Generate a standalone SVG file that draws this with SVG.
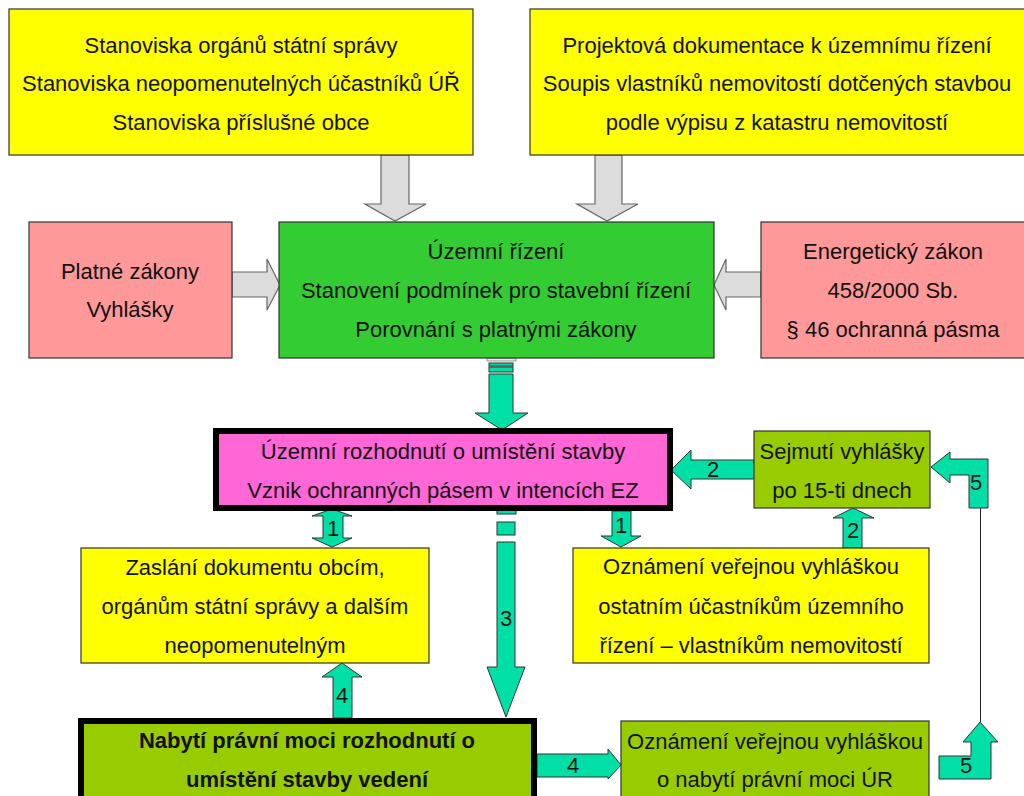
<svg xmlns="http://www.w3.org/2000/svg" width="1024" height="796" viewBox="0 0 1024 796">
<style>
  text{font-family:"Liberation Sans",Arial,sans-serif;font-size:22px;fill:#111;text-anchor:middle;dominant-baseline:central}
  .box{stroke:#333;stroke-width:1.2}
  .thick{stroke:#000;stroke-width:6}
  .gray{fill:#dcdcdc;stroke:#666;stroke-width:1.2}
  .teal{fill:#00e0a6;stroke:#333;stroke-width:1}
  .lbl{font-size:22px}
  .bold{font-weight:bold}
</style>
<rect width="1024" height="796" fill="#fff"/>

<g id="connectors">
  <polygon class="gray" points="381,155 409,155 409,204 426,204 395,221 365,204 381,204"/>
  <polygon class="gray" points="595,155 622,155 622,204 638,204 607,221 577,204 595,204"/>
  <polygon class="gray" points="232,272 267,272 267,259 280,285 267,310 267,297 232,297"/>
  <polygon class="gray" points="761,272 726,272 726,259 714,285 726,310 726,297 761,297"/>
  <rect x="487" y="358" width="29" height="3" fill="#e8e8e8" stroke="#888" stroke-width="0.8"/>
  <rect class="teal" x="489" y="363" width="24" height="3"/>
  <rect class="teal" x="489" y="367" width="24" height="5"/>
  <polygon class="teal" points="489,374 513,374 513,413 528,413 502,430 475,413 489,413"/>
  <polygon class="teal" points="332,509 352,516 343,516 343,538 352,538 332,547 312,538 323,538 323,516 312,516"/>
  <text class="lbl" x="333" y="528">1</text>
  <polygon class="teal" points="612,511 631,511 631,536 641,536 621,547 601,536 612,536"/>
  <text class="lbl" x="621" y="525">1</text>
  <polygon class="teal" points="754,460 691,460 691,450 671,470 691,489 691,479 754,479"/>
  <text class="lbl" x="713" y="469">2</text>
  <polygon class="teal" points="853,508 874,518 862,518 862,548 843,548 843,518 833,518"/>
  <text class="lbl" x="853" y="530">2</text>
  <polygon class="teal" points="931,467 950,452 950,459 988,459 988,508 969,508 969,475 950,475 950,483"/>
  <text class="lbl" x="976" y="482">5</text>
  <line x1="980.5" y1="508" x2="980.5" y2="722" stroke="#222" stroke-width="1"/>
  <polygon class="teal" points="980,722 998,742 991,742 991,779 939,779 939,756 971,756 971,742 963,742"/>
  <text class="lbl" x="966" y="765">5</text>
  <rect class="teal" x="497" y="509" width="19" height="5"/>
  <rect class="teal" x="497" y="522" width="18" height="13"/>
  <polygon class="teal" points="497,542 515,542 515,667 525,667 506,717 487,667 497,667"/>
  <text class="lbl" x="506" y="618">3</text>
  <polygon class="teal" points="342,663 362,677 352,677 352,718 333,718 333,677 322,677"/>
  <text class="lbl" x="342" y="695">4</text>
  <polygon class="teal" points="537,754 608,754 608,749 621,765 608,779 608,777 537,777"/>
  <text class="lbl" x="573" y="765">4</text>
</g>

<g id="n1">
  <rect class="box" x="9" y="9" width="464" height="146" fill="#ffff00"/>
  <text x="241" y="45">Stanoviska orgánů státní správy</text>
  <text x="241" y="83">Stanoviska neopomenutelných účastníků ÚŘ</text>
  <text x="241" y="122">Stanoviska příslušné obce</text>
</g>
<g id="n2">
  <rect class="box" x="530" y="9" width="500" height="146" fill="#ffff00"/>
  <text x="777" y="45">Projektová dokumentace k územnímu řízení</text>
  <text x="777" y="83">Soupis vlastníků nemovitostí dotčených stavbou</text>
  <text x="777" y="122">podle výpisu z katastru nemovitostí</text>
</g>
<g id="n3">
  <rect class="box" x="29" y="222" width="203" height="136" fill="#ff9999"/>
  <text x="130" y="271">Platné zákony</text>
  <text x="130" y="309">Vyhlášky</text>
</g>
<g id="n4">
  <rect class="box" x="279" y="222" width="435" height="136" fill="#33cc33"/>
  <text x="496" y="251">Územní řízení</text>
  <text x="496" y="290">Stanovení podmínek pro stavební řízení</text>
  <text x="496" y="329">Porovnání s platnými zákony</text>
</g>
<g id="n5">
  <rect class="box" x="761" y="222" width="270" height="136" fill="#ff9999"/>
  <text x="893" y="251">Energetický zákon</text>
  <text x="893" y="290">458/2000 Sb.</text>
  <text x="893" y="329">§ 46 ochranná pásma</text>
</g>
<g id="n6">
  <rect class="thick" x="216" y="431" width="454" height="77" fill="#ff66d6"/>
  <text x="443" y="451">Územní rozhodnutí o umístění stavby</text>
  <text x="443" y="490">Vznik ochranných pásem v intencích EZ</text>
</g>
<g id="n7">
  <rect class="box" x="754" y="431" width="176" height="77" fill="#99cc00"/>
  <text x="842" y="451">Sejmutí vyhlášky</text>
  <text x="842" y="490">po 15-ti dnech</text>
</g>
<g id="n8">
  <rect class="box" x="81" y="548" width="348" height="115" fill="#ffff00"/>
  <text x="255" y="567">Zaslání dokumentu obcím,</text>
  <text x="255" y="606">orgánům státní správy a dalším</text>
  <text x="255" y="645">neopomenutelným</text>
</g>
<g id="n9">
  <rect class="box" x="573" y="548" width="356" height="115" fill="#ffff00"/>
  <text x="751" y="566">Oznámení veřejnou vyhláškou</text>
  <text x="751" y="606">ostatním účastníkům územního</text>
  <text x="751" y="645">řízení – vlastníkům nemovitostí</text>
</g>
<g id="n10">
  <rect class="thick" x="81" y="721" width="453" height="90" fill="#99cc00"/>
  <text class="bold" x="307" y="740">Nabytí právní moci rozhodnutí o</text>
  <text class="bold" x="307" y="779">umístění stavby vedení</text>
</g>
<g id="n11">
  <rect class="box" x="621" y="721" width="308" height="90" fill="#99cc00"/>
  <text x="775" y="741">Oznámení veřejnou vyhláškou</text>
  <text x="775" y="779">o nabytí právní moci ÚR</text>
</g>
</svg>
